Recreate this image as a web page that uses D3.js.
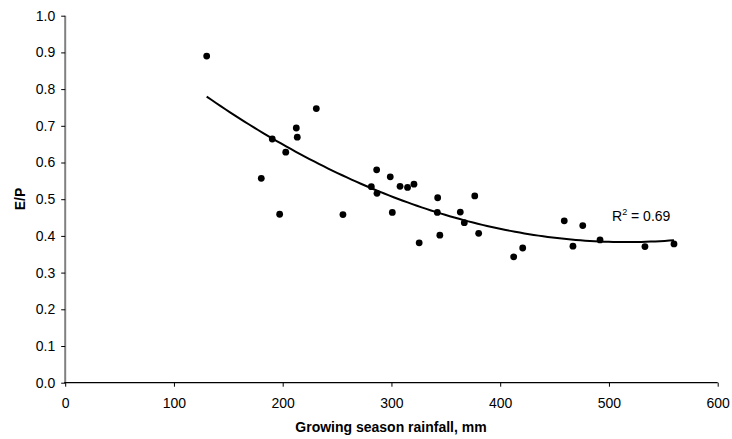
<!DOCTYPE html>
<html><head><meta charset="utf-8">
<script src="https://cdn.jsdelivr.net/npm/d3@7"></script>
<style>body{margin:0;background:#fff}svg{display:block}text{font-family:"Liberation Sans",Arial,sans-serif}</style>
</head><body>
<svg id="c" width="732" height="439"></svg>
<script>
const rainfall = [130.1,190.4,202.8,212.5,213.4,230.9,180.3,197.2,255.4,286.4,298.9,281.5,286.7,307.9,314.8,320.7,300.8,325.5,342.5,342.2,344.5,376.6,363.3,367.0,380.2,412.4,420.7,458.9,475.9,466.9,491.8,533.1,559.8];
const ep = [0.890,0.664,0.628,0.694,0.669,0.747,0.557,0.459,0.458,0.580,0.561,0.534,0.516,0.535,0.532,0.541,0.464,0.381,0.504,0.464,0.402,0.509,0.465,0.436,0.407,0.343,0.367,0.441,0.428,0.372,0.389,0.371,0.378];
const xTicks = [0,100,200,300,400,500,600];
const yTicks = [0,0.1,0.2,0.3,0.4,0.5,0.6,0.7,0.8,0.9,1.0];
const r2Label = "0.69";

const svg = d3.select("#c");
const x = d3.scaleLinear().domain([0,600]).range([65.2,717.7]);
const y = d3.scaleLinear().domain([0,1]).range([382.7,15.7]);

// y axis
const ya = svg.append("g").attr("transform","translate(65.2,0)")
  .call(d3.axisLeft(y).tickValues(yTicks).tickFormat(d3.format(".1f")).tickSize(4).tickPadding(6));
ya.select(".domain").attr("stroke","#808080").attr("stroke-width",2).attr("d","M0,15.7V382.7");
ya.selectAll(".tick line").attr("stroke","#000");
ya.selectAll("text").attr("font-size",14).attr("fill","#000");

// x axis
const xa = svg.append("g").attr("transform","translate(0,382.7)")
  .call(d3.axisBottom(x).tickValues(xTicks).tickSize(4).tickPadding(11.5));
xa.select(".domain").attr("stroke","#000").attr("stroke-width",1.3).attr("d","M64.2,0H717.7");
xa.selectAll("text").attr("font-size",14).attr("fill","#000");

// quadratic least-squares trendline
const n = rainfall.length;
let S = [0,0,0,0,0], T = [0,0,0];
for (let i=0;i<n;i++){const xi=rainfall[i], yi=ep[i];
  for(let k=0;k<5;k++) S[k]+=Math.pow(xi,k);
  for(let k=0;k<3;k++) T[k]+=yi*Math.pow(xi,k);}
const A=[[S[0],S[1],S[2],T[0]],[S[1],S[2],S[3],T[1]],[S[2],S[3],S[4],T[2]]];
for(let i=0;i<3;i++){for(let j=i+1;j<3;j++){const f=A[j][i]/A[i][i];for(let k=i;k<4;k++)A[j][k]-=f*A[i][k];}}
const c=[0,0,0];
for(let i=2;i>=0;i--){let s=A[i][3];for(let k=i+1;k<3;k++)s-=A[i][k]*c[k];c[i]=s/A[i][i];}
const xmin=d3.min(rainfall), xmax=d3.max(rainfall);
const trend = d3.range(0,101).map(i=>{const xv=xmin+(xmax-xmin)*i/100;return [xv,c[0]+c[1]*xv+c[2]*xv*xv];});
svg.append("path").datum(trend)
  .attr("d",d3.line().x(d=>x(d[0])).y(d=>y(d[1])))
  .attr("fill","none").attr("stroke","#000").attr("stroke-width",2);

// points
svg.append("g").selectAll("circle").data(rainfall).join("circle")
  .attr("cx",d=>x(d)).attr("cy",(d,i)=>y(ep[i])).attr("r",3.4).attr("fill","#000");

// R2 label
const t = svg.append("text").attr("x",612).attr("y",221).attr("font-size",14).attr("fill","#000");
t.append("tspan").text("R");
t.append("tspan").attr("font-size",9).attr("dy",-6).text("2");
t.append("tspan").attr("dy",6).text(" = " + r2Label);

// axis titles
svg.append("text").attr("x",391).attr("y",431.5).attr("text-anchor","middle")
  .attr("font-size",14).attr("font-weight","bold").text("Growing season rainfall, mm");
svg.append("text").attr("transform","translate(24.5,199) rotate(-90)").attr("text-anchor","middle")
  .attr("font-size",14).attr("font-weight","bold").text("E/P");
</script>
</body></html>
